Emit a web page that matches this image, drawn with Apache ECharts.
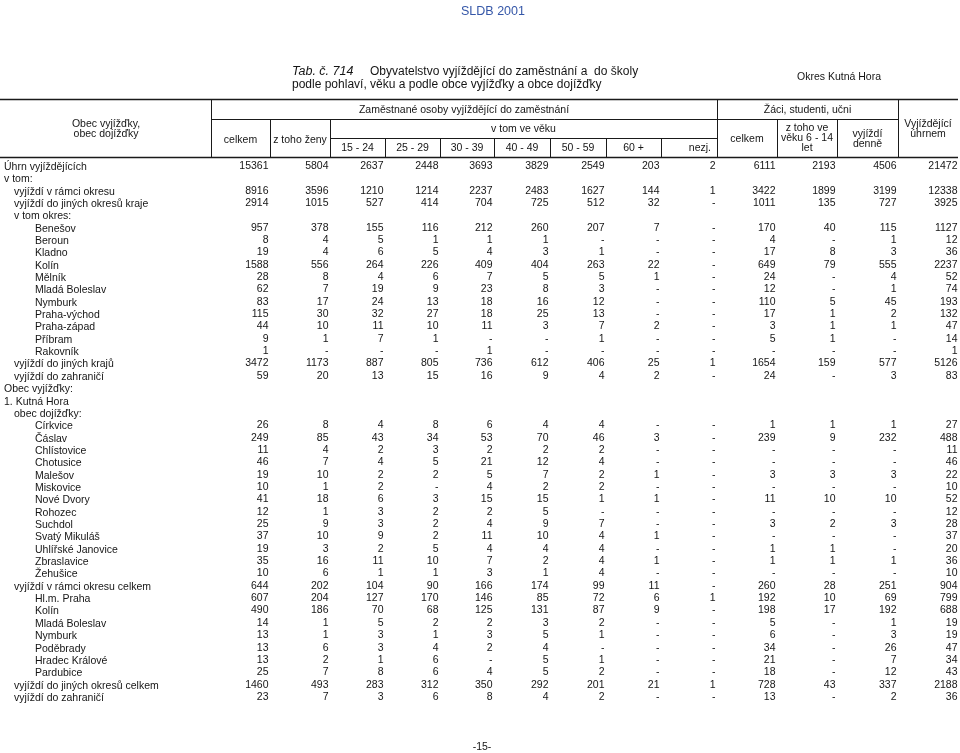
<!DOCTYPE html>
<html><head><meta charset="utf-8">
<script src="https://cdn.jsdelivr.net/npm/echarts@6/dist/echarts.min.js"></script>
<style>html,body{margin:0;padding:0;background:#fff}#c{width:960px;height:753px}</style>
</head><body><div id="c"></div><script>
// ---------------- DATA ----------------
const _ = null;
const rowLabels = [
  'Úhrn vyjíždějících','v tom:','vyjíždí v rámci okresu','vyjíždí do jiných okresů kraje','v tom okres:',
  'Benešov','Beroun','Kladno','Kolín','Mělník','Mladá Boleslav','Nymburk','Praha-východ','Praha-západ','Příbram','Rakovník',
  'vyjíždí do jiných krajů','vyjíždí do zahraničí','Obec vyjížďky:','1. Kutná Hora','obec dojížďky:',
  'Církvice','Čáslav','Chlístovice','Chotusice','Malešov','Miskovice','Nové Dvory','Rohozec','Suchdol','Svatý Mikuláš',
  'Uhlířské Janovice','Zbraslavice','Žehušice','vyjíždí v rámci okresu celkem',
  'Hl.m. Praha','Kolín','Mladá Boleslav','Nymburk','Poděbrady','Hradec Králové','Pardubice',
  'vyjíždí do jiných okresů celkem','vyjíždí do zahraničí'
];
const celkem     = [15361,_,8916,2914,_,957,8,19,1588,28,62,83,115,44,9,1,3472,59,_,_,_,26,249,11,46,19,10,41,12,25,37,19,35,10,644,607,490,14,13,13,13,25,1460,23];
const zToHoZeny  = [5804,_,3596,1015,_,378,4,4,556,8,7,17,30,10,1,0,1173,20,_,_,_,8,85,4,7,10,1,18,1,9,10,3,16,6,202,204,186,1,1,6,2,7,493,7];
const age15_24   = [2637,_,1210,527,_,155,5,6,264,4,19,24,32,11,7,0,887,13,_,_,_,4,43,2,4,2,2,6,3,3,9,2,11,1,104,127,70,5,3,3,1,8,283,3];
const age25_29   = [2448,_,1214,414,_,116,1,5,226,6,9,13,27,10,1,0,805,15,_,_,_,8,34,3,5,2,0,3,2,2,2,5,10,1,90,170,68,2,1,4,6,6,312,6];
const age30_39   = [3693,_,2237,704,_,212,1,4,409,7,23,18,18,11,0,1,736,16,_,_,_,6,53,2,21,5,4,15,2,4,11,4,7,3,166,146,125,2,3,2,0,4,350,8];
const age40_49   = [3829,_,2483,725,_,260,1,3,404,5,8,16,25,3,0,0,612,9,_,_,_,4,70,2,12,7,2,15,5,9,10,4,2,1,174,85,131,3,5,4,5,5,292,4];
const age50_59   = [2549,_,1627,512,_,207,0,1,263,5,3,12,13,7,1,0,406,4,_,_,_,4,46,2,4,2,2,1,0,7,4,4,4,4,99,72,87,2,1,0,1,2,201,2];
const age60plus  = [203,_,144,32,_,7,0,0,22,1,0,0,0,2,0,0,25,2,_,_,_,0,3,0,0,1,0,1,0,0,1,0,1,0,11,6,9,0,0,0,0,0,21,0];
const ageUnknown = [2,_,1,0,_,0,0,0,0,0,0,0,0,0,0,0,1,0,_,_,_,0,0,0,0,0,0,0,0,0,0,0,0,0,0,1,0,0,0,0,0,0,1,0];
const zaciCelkem = [6111,_,3422,1011,_,170,4,17,649,24,12,110,17,3,5,0,1654,24,_,_,_,1,239,0,0,3,0,11,0,3,0,1,1,0,260,192,198,5,6,34,21,18,728,13];
const zaci6_14   = [2193,_,1899,135,_,40,0,8,79,0,0,5,1,1,1,0,159,0,_,_,_,1,9,0,0,3,0,10,0,2,0,1,1,0,28,10,17,0,0,0,0,0,43,0];
const zaciDenne  = [4506,_,3199,727,_,115,1,3,555,4,1,45,2,1,0,0,577,3,_,_,_,1,232,0,0,3,0,10,0,3,0,0,1,0,251,69,192,1,3,26,7,12,337,2];
const uhrnem     = [21472,_,12338,3925,_,1127,12,36,2237,52,74,193,132,47,14,1,5126,83,_,_,_,27,488,11,46,22,10,52,12,28,37,20,36,10,904,799,688,19,19,47,34,43,2188,36];
const valueColumns = [celkem,zToHoZeny,age15_24,age25_29,age30_39,age40_49,age50_59,age60plus,ageUnknown,zaciCelkem,zaci6_14,zaciDenne,uhrnem];
const ageLabels = ['15 - 24','25 - 29','30 - 39','40 - 49','50 - 59','60 +','nezj.'];

// ---------------- LAYOUT / STYLE ----------------
const rowLevels = [0,0,1,1,1, 2,2,2,2,2,2,2,2,2,2,2, 1,1,0,0,1, 2,2,2,2,2,2,2,2,2,2,2,2,2, 1, 2,2,2,2,2,2,2, 1,1];
const indentX = [4,14,35];
const colEdges = [211,270,330,385,440,494,550,606,661,717,777,837,898,959];
const FONT = "'Liberation Sans', Arial, Helvetica, sans-serif";
const INK = '#151515';
const FS = 10.5;

const chart = echarts.init(document.getElementById('c'), null, {renderer:'canvas'});
const rowCats = rowLabels.map((_, i) => String(i));

function fmt(v){ return v === 0 ? '-' : String(v); }

chart.setOption({
  animation: false,
  backgroundColor: '#fff',
  grid: {left: 0, right: 0, top: 159.83, height: 543.35},
  xAxis: {type:'value', min:0, max:960, show:false},
  yAxis: {type:'category', data: rowCats, inverse:true, show:false},
  series: [{
    type: 'custom',
    coordinateSystem: 'cartesian2d',
    data: rowCats.map((c, i) => [0, i]),
    encode: {x: 0, y: 1},
    renderItem: function(params, api){
      const i = params.dataIndex;
      const y = api.coord([0, i])[1];
      const children = [];
      const lx = api.coord([indentX[rowLevels[i]], i])[0];
      children.push({type:'text', x: lx, y: y + 1, style:{text: rowLabels[i], align:'left', verticalAlign:'middle', fontFamily: FONT, fontSize: FS, fill: INK}});
      valueColumns.forEach(function(col, c){
        const v = col[i];
        if (v === null || v === undefined) return;
        const x = api.coord([colEdges[c+1] - 1.5, i])[0];
        children.push({type:'text', x: x, y: y, style:{text: fmt(v), align:'right', verticalAlign:'middle', fontFamily: FONT, fontSize: FS, fill: INK}});
      });
      return {type:'group', children: children};
    }
  }]
});

// ---------------- HEADER (graphic) ----------------
const px = v => chart.convertToPixel({xAxisIndex:0}, v);
const g = [];
function hline(x1,x2,y,w){ g.push({type:'line', shape:{x1:px(x1),y1:y,x2:px(x2),y2:y}, style:{stroke:'#1a1a1a', lineWidth:w||1}, silent:true}); }
function vline(x,y1,y2){ g.push({type:'line', shape:{x1:px(x)+0.5,y1:y1,x2:px(x)+0.5,y2:y2}, style:{stroke:'#1a1a1a', lineWidth:1}, silent:true}); }
function txt(t,x,y,align,size,extra){ g.push(Object.assign({type:'text', x:px(x), y:y, style:{text:t, align:align||'center', verticalAlign:'middle', fontFamily:FONT, fontSize:size||FS, fill:INK}, silent:true}, extra||{})); }

// borders
hline(0,958,99.5,1.6);
hline(0,958,157.5,1.6);
hline(211,898,119.5,1);
hline(330,717,138.5,1);
vline(211,99,158); vline(717,99,158); vline(898,99,158);
vline(270,119,158); vline(330,119,158); vline(777,119,158); vline(837,119,158);
for (let k = 3; k <= 8; k++) vline(colEdges[k],138,158);

// header texts
txt('Obec vyjížďky,',106,124.5);
txt('obec dojížďky',106,134.5);
txt('Zaměstnané osoby vyjíždějící do zaměstnání',(colEdges[0]+colEdges[9])/2,110);
txt('celkem',(colEdges[0]+colEdges[1])/2,140);
txt('z toho ženy',(colEdges[1]+colEdges[2])/2,140);
txt('v tom ve věku',(colEdges[2]+colEdges[9])/2,129);
ageLabels.forEach(function(l,k){
  if (k === ageLabels.length-1) txt(l,colEdges[k+3]-6,148,'right');
  else txt(l,(colEdges[k+2]+colEdges[k+3])/2,148);
});
txt('Žáci, studenti, učni',(colEdges[9]+colEdges[12])/2,110.5);
txt('celkem',(colEdges[9]+colEdges[10])/2,139.5);
txt('z toho ve',(colEdges[10]+colEdges[11])/2,128.5);
txt('věku 6 - 14',(colEdges[10]+colEdges[11])/2,138.5);
txt('let',(colEdges[10]+colEdges[11])/2,148.5);
txt('vyjíždí',(colEdges[11]+colEdges[12])/2,134.5);
txt('denně',(colEdges[11]+colEdges[12])/2,144.5);
txt('Vyjíždějící',(colEdges[12]+958)/2,124.5);
txt('úhrnem',(colEdges[12]+958)/2,134.5);

// title block
g.push({type:'text', x:493, y:12, silent:true, style:{text:'SLDB 2001', align:'center', verticalAlign:'middle', fontFamily:FONT, fontSize:12.5, fill:'#3557a8'}});
g.push({type:'text', x:px(292), y:72, silent:true, style:{
  text:'{i|Tab. č. 714}Obyvatelstvo vyjíždějící do zaměstnání a  do školy',
  align:'left', verticalAlign:'middle', fontFamily:FONT, fontSize:12, fill:INK,
  rich:{i:{fontStyle:'italic', fontFamily:FONT, fontSize:12.5, fill:INK, width:78}}
}});
txt('podle pohlaví, věku a podle obce vyjížďky a obce dojížďky',292,85,'left',12);
txt('Okres Kutná Hora',839,77,'center',10.5);
txt('-15-',482,747,'center',10.5);

chart.setOption({graphic: {elements: g}});
</script></body></html>
